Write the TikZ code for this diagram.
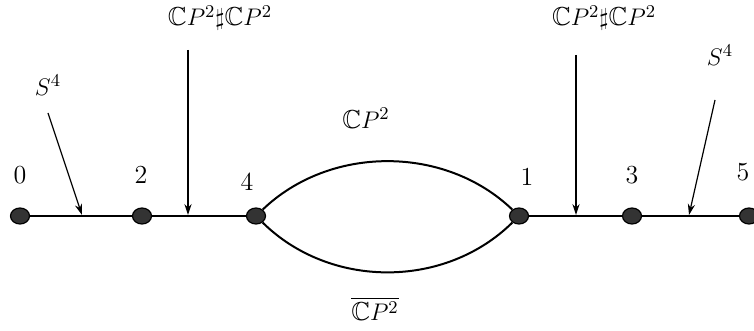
\documentclass[12pt,tikz,border=0pt]{standalone}
\usepackage{amsmath,amssymb}
\usepackage{tikz}
\usetikzlibrary{positioning,arrows.meta,shapes.geometric}

\begin{document}
\begin{tikzpicture}[x=0.5pt, y=-0.5pt, font=\fontsize{13}{15}\selectfont,
  dot/.style={draw, ellipse, fill=black!80, line width=0.6pt, minimum width=9.5pt, minimum height=8pt, inner sep=0pt},
  edge/.style={line width=1pt},
  arr/.style={line width=0.6pt, -{Stealth[length=5.5pt, width=3.6pt]}}]
\useasboundingbox (0,0) rectangle (754,331);
% vertices on the line
\node[dot] (d0) at (20,216) {};
\node[dot] (d2) at (142,216) {};
\node[dot] (d4) at (256,216) {};
\node[dot] (d1) at (519,216) {};
\node[dot] (d3) at (632,216) {};
\node[dot] (d5) at (749,216) {};
\node (n0) at (20,175) {0};
\node (n2) at (141,175) {2};
\node (n4) at (247,182) {4};
\node (n1) at (527,177) {1};
\node (n3) at (632,175) {3};
\node (n5) at (743,172) {5};
% edges and the lens
\draw[edge] (d0) -- (d2) -- (d4);
\draw[edge] (d1) -- (d3) -- (d5);
\draw[edge] (d4) .. controls (330,145) and (445,145) .. (d1);
\draw[edge] (d4) .. controls (330,289) and (445,289) .. (d1);
\node (cpt) at (366,118) {$\mathbb{C}P^2$};
\node (cpb) at (375,309) {$\overline{\mathbb{C}P^2}$};
% attached summands
\node (s4l) at (48,85) {$S^4$};
\node (csl) at (220,18) {$\mathbb{C}P^2\sharp\mathbb{C}P^2$};
\node (csr) at (604,18) {$\mathbb{C}P^2\sharp\mathbb{C}P^2$};
\node (s4r) at (720,55) {$S^4$};
\coordinate (a1s) at (48,113); \coordinate (a1e) at (82,215);
\coordinate (a2s) at (188,50); \coordinate (a2e) at (188,215);
\coordinate (a3s) at (576,55); \coordinate (a3e) at (576,215);
\coordinate (a4s) at (715,100); \coordinate (a4e) at (689,215);
\draw[arr] (a1s) -- (a1e); \draw[arr] (a2s) -- (a2e);
\draw[arr] (a3s) -- (a3e); \draw[arr] (a4s) -- (a4e);
\end{tikzpicture}
\end{document}
